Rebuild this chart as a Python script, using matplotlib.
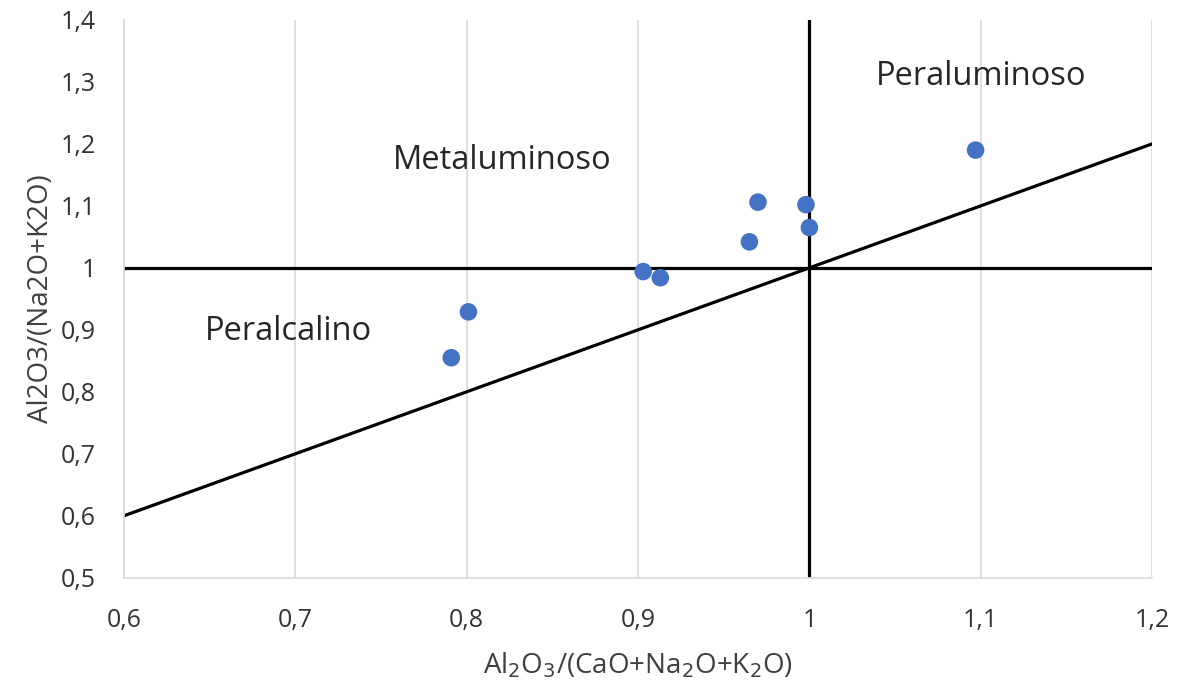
import matplotlib
matplotlib.use("Agg")
import matplotlib.pyplot as plt

x_vals = [0.791, 0.801, 0.903, 0.913, 0.965, 0.970, 0.998, 1.000, 1.097]
y_vals = [0.855, 0.929, 0.994, 0.984, 1.042, 1.106, 1.102, 1.065, 1.190]
x_ticks = [0.6, 0.7, 0.8, 0.9, 1.0, 1.1, 1.2]
x_tick_labels = ["0,6", "0,7", "0,8", "0,9", "1", "1,1", "1,2"]
y_ticks = [0.5, 0.6, 0.7, 0.8, 0.9, 1.0, 1.1, 1.2, 1.3, 1.4]
y_tick_labels = ["0,5", "0,6", "0,7", "0,8", "0,9", "1", "1,1", "1,2", "1,3", "1,4"]
region_labels = ["Peraluminoso", "Metaluminoso", "Peralcalino"]
region_x = [1.1, 0.821, 0.696]
region_y = [1.308, 1.174, 0.898]

plt.rcParams['font.family'] = ['Open Sans', 'DejaVu Sans']

fig = plt.figure(figsize=(11.81, 6.87), dpi=100)
ax = fig.add_axes([0.105, 0.159, 0.8705, 0.812])

ax.set_xlim(0.6, 1.2)
ax.set_ylim(0.5, 1.4)
ax.set_xticks(x_ticks)
ax.set_xticklabels(x_tick_labels)
ax.set_yticks(y_ticks)
ax.set_yticklabels(y_tick_labels)
ax.tick_params(axis='both', length=0, labelsize=18, colors='#333333')
ax.tick_params(axis='x', pad=22)
ax.tick_params(axis='y', pad=20)

ax.grid(axis='x', color='#d9d9d9', linewidth=1.2)
ax.set_axisbelow(True)
for s in ['top', 'right']:
    ax.spines[s].set_visible(False)
for s in ['left', 'bottom']:
    ax.spines[s].set_color('#d9d9d9')
    ax.spines[s].set_linewidth(1.2)

# reference lines
ax.plot([0.6, 1.2], [0.6, 1.2], color='black', lw=2.3, zorder=2)
ax.axhline(1.0, color='black', lw=2.3, zorder=2)
ax.axvline(1.0, color='black', lw=2.3, zorder=2)

ax.scatter(x_vals, y_vals, s=160, color='#4472C4', zorder=3, edgecolors='none')

for t, xx, yy in zip(region_labels, region_x, region_y):
    ax.text(xx, yy, t, ha='center', va='center', fontsize=23.5, color='#262626')

ax.set_xlabel(r"Al$_2$O$_3$/(CaO+Na$_2$O+K$_2$O)", fontsize=20, color='#404040', labelpad=12)
ax.set_ylabel("Al2O3/(Na2O+K2O)", fontsize=20, color='#404040', labelpad=4)

fig.savefig("out.png", dpi=100)
